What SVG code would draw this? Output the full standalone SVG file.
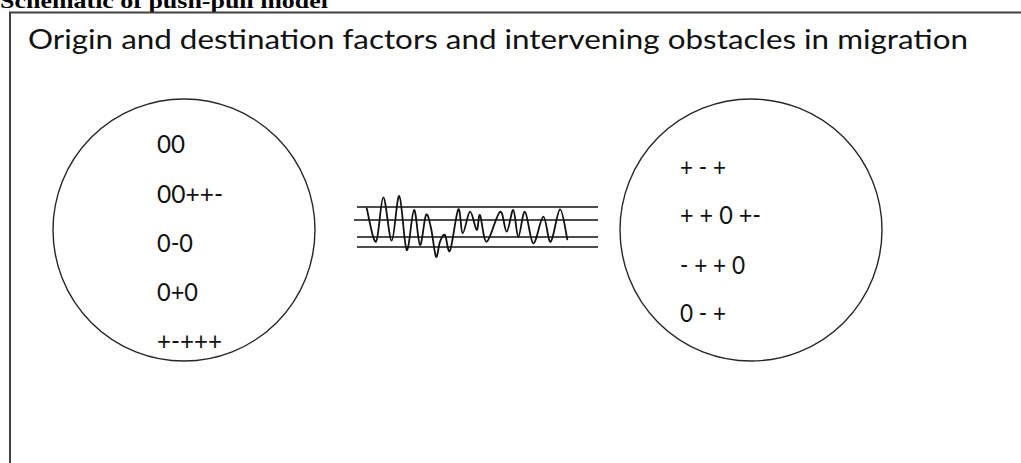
<svg xmlns="http://www.w3.org/2000/svg" width="1021" height="463" viewBox="0 0 1021 463">
  <style>
    .frame { fill: #ffffff; stroke: #404040; stroke-width: 2; }
    .circ { fill: none; stroke: #262626; stroke-width: 1.4; }
    .lbl { font-family: Lato, "Open Sans", "Liberation Sans", sans-serif; font-size: 25px; fill: #111111; }
    .title { font-family: Lato, "Open Sans", "Liberation Sans", sans-serif; font-size: 27px; fill: #111111; }
    .head { font-family: "Liberation Serif", "Times New Roman", serif; font-weight: bold; font-size: 22px; fill: #000000; }
    .bar { stroke: #111111; stroke-width: 1.6; }
    .wave { fill: none; stroke: #111111; stroke-width: 1.8; stroke-linejoin: round; stroke-linecap: round; }
  </style>
  <rect x="0" y="0" width="1021" height="463" fill="#ffffff"/>
  <text class="head" x="0" y="8" textLength="328" lengthAdjust="spacingAndGlyphs">Schematic of push-pull model</text>
  <rect class="frame" x="10" y="12.5" width="1030" height="480"/>
  <g id="title">
    <text class="title" x="28" y="49" textLength="940" lengthAdjust="spacingAndGlyphs">Origin and destination factors and intervening obstacles in migration</text>
  </g>
  <g id="origin">
    <circle class="circ" cx="184" cy="230" r="131"/>
    <text class="lbl" x="157" y="153" textLength="28" lengthAdjust="spacingAndGlyphs">00</text>
    <text class="lbl" x="157" y="203" textLength="66" lengthAdjust="spacingAndGlyphs">00++-</text>
    <text class="lbl" x="157" y="252" textLength="36" lengthAdjust="spacingAndGlyphs">0-0</text>
    <text class="lbl" x="157" y="301" textLength="41" lengthAdjust="spacingAndGlyphs">0+0</text>
    <text class="lbl" x="157" y="350" textLength="65" lengthAdjust="spacingAndGlyphs">+-+++</text>
  </g>
  <g id="destination">
    <circle class="circ" cx="751" cy="230" r="131"/>
    <text class="lbl" x="680" y="176" textLength="46" lengthAdjust="spacingAndGlyphs">+ - +</text>
    <text class="lbl" x="680" y="224" textLength="81" lengthAdjust="spacingAndGlyphs">+ + 0 +-</text>
    <text class="lbl" x="680" y="274" textLength="65" lengthAdjust="spacingAndGlyphs">- + + 0</text>
    <text class="lbl" x="680" y="322" textLength="46" lengthAdjust="spacingAndGlyphs">0 - +</text>
  </g>
  <g id="obstacles">
    <line class="bar" x1="357" y1="207" x2="598" y2="207"/>
    <line class="bar" x1="354" y1="220" x2="598" y2="220"/>
    <line class="bar" x1="357" y1="237" x2="598" y2="237"/>
    <line class="bar" x1="357" y1="247" x2="598" y2="247"/>
    <path class="wave" d="M366.7,208.3 C368.25,213.87 373.23,243.53 376,241.7 C378.77,239.87 380.68,197.47 383.3,197.3 C385.92,197.13 389.03,240.92 391.7,240.7 C394.37,240.48 396.8,194.45 399.3,196 C401.8,197.55 404.25,247.67 406.7,250 C409.15,252.33 411.78,210.83 414,210 C416.22,209.17 418,244.17 420,245 C422,245.83 424.17,217.83 426,215 C427.83,212.17 429.33,221.05 431,228 C432.67,234.95 434.5,254.42 436,256.7 C437.5,258.98 438.5,245.32 440,241.7 C441.5,238.08 443.33,233.5 445,235 C446.67,236.5 447.78,254.98 450,250.7 C452.22,246.42 456.18,212.2 458.3,209.3 C460.42,206.4 460.75,232.9 462.7,233.3 C464.65,233.7 467.67,212.25 470,211.7 C472.33,211.15 475.03,229.45 476.7,230 C478.37,230.55 478.33,213.05 480,215 C481.67,216.95 483.37,242.25 486.7,241.7 C490.03,241.15 496.67,213.37 500,211.7 C503.33,210.03 504.48,231.98 506.7,231.7 C508.92,231.42 511.37,209.17 513.3,210 C515.23,210.83 516.35,236.42 518.3,236.7 C520.25,236.98 522.5,210.6 525,211.7 C527.5,212.8 530.25,242.47 533.3,243.3 C536.35,244.13 540.4,216.97 543.3,216.7 C546.2,216.43 547.92,242.93 550.7,241.7 C553.48,240.47 557.23,209.7 560,209.3 C562.77,208.9 566.08,234.3 567.3,239.3"/>
  </g>
  <g id="connectors"/>
</svg>
